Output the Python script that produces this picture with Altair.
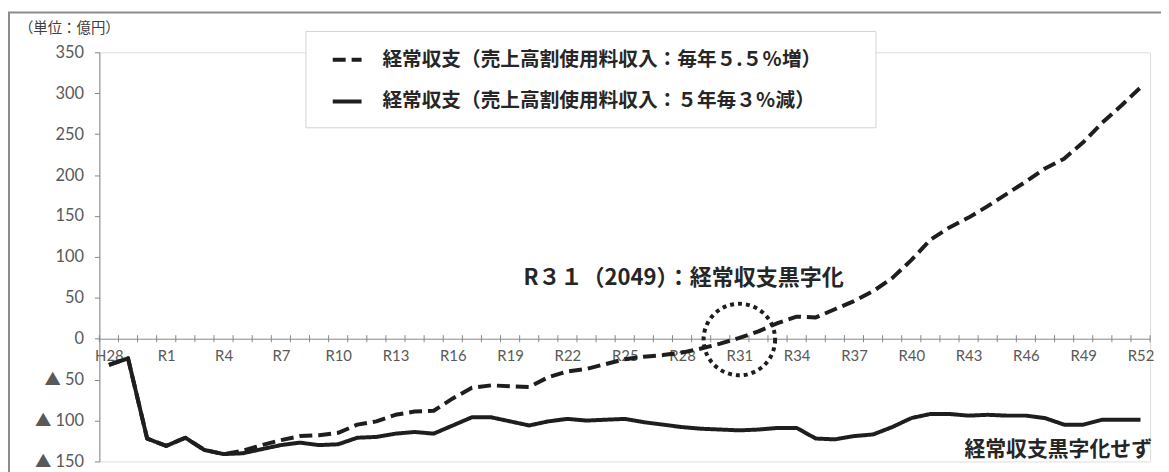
import altair as alt
import pandas as pd

years = ["H28", "H29", "H30", "R1", "R2", "R3", "R4", "R5", "R6", "R7", "R8", "R9",
         "R10", "R11", "R12", "R13", "R14", "R15", "R16", "R17", "R18", "R19", "R20",
         "R21", "R22", "R23", "R24", "R25", "R26", "R27", "R28", "R29", "R30", "R31",
         "R32", "R33", "R34", "R35", "R36", "R37", "R38", "R39", "R40", "R41", "R42",
         "R43", "R44", "R45", "R46", "R47", "R48", "R49", "R50", "R51", "R52"]
tick_labels = ["H28", "R1", "R4", "R7", "R10", "R13", "R16", "R19", "R22", "R25",
               "R28", "R31", "R34", "R37", "R40", "R43", "R46", "R49", "R52"]
y_ticks = [-150, -100, -50, 0, 50, 100, 150, 200, 250, 300, 350]

series_up = "経常収支（売上高割使用料収入：毎年５.５％増）"
series_down = "経常収支（売上高割使用料収入：５年毎３％減）"

values_up = [-32, -24, -122, -131, -121, -136, -141, -137, -130, -124, -119, -118,
             -115, -105, -101, -93, -89, -88, -73, -60, -57, -58, -59, -47, -40,
             -37, -31, -25, -22, -20, -17, -12, -6, 1, 9, 19, 27, 26, 36, 46, 58,
             74, 96, 121, 136, 148, 162, 177, 192, 208, 220, 240, 264, 285, 307]
values_down = [-32, -24, -122, -131, -121, -136, -141, -140, -135, -130, -127, -130,
               -129, -121, -120, -116, -114, -116, -106, -96, -96, -101, -106, -101,
               -98, -100, -99, -98, -102, -105, -108, -110, -111, -112, -111, -109,
               -109, -122, -123, -119, -117, -108, -97, -92, -92, -94, -93, -94, -94,
               -97, -105, -105, -99, -99, -99]

note_black = "R３１（2049）：経常収支黒字化"
note_none = "経常収支黒字化せず"
unit_text = "（単位：億円）"
breakeven_year = "R31"

rows = []
for i, y in enumerate(years):
    rows.append({"i": i, "year": y, "series": series_up, "value": values_up[i]})
    rows.append({"i": i, "year": y, "series": series_down, "value": values_down[i]})
df = pd.DataFrame(rows)

bounds = pd.DataFrame({"b": [k - 0.5 for k in range(len(years) + 1)]})

W, H = 1058, 412
JP = "Noto Sans CJK JP"
NUM = "Lato, Noto Sans CJK JP"
INK = "#1e1e1e"
AXC = "#868686"

x_scale = alt.Scale(domain=[-0.5, len(years) - 0.5], nice=False, zero=False)
y_scale = alt.Scale(domain=[-150, 350], nice=False, zero=False)
zero_offset = -H * (0 - (-150)) / (350 - (-150))

label_js = "[" + ",".join("'" + t + "'" for t in years) + "]"
tick_vals = [years.index(t) for t in tick_labels]

x_axis = alt.Axis(values=tick_vals, labelExpr=label_js + "[datum.value]",
                  offset=zero_offset, title=None, grid=False, ticks=False,
                  domainColor=AXC, domainWidth=1, labelColor="#595959",
                  labelFont=NUM, labelFontSize=15, labelPadding=10,
                  labelFlush=False, labelOverlap=False)
y_axis = alt.Axis(values=y_ticks,
                  labelExpr="datum.value < 0 ? '▲ ' + abs(datum.value) : '' + datum.value",
                  title=None, grid=False, tickColor=AXC, tickSize=5, domainColor=AXC,
                  labelColor="#595959", labelFont=NUM, labelFontSize=16.5,
                  labelPadding=11, labelFlush=False, labelOverlap=False)

frame = alt.Chart(pd.DataFrame({"a": [0]})).mark_rect(
    fillOpacity=0, stroke="#8c8c8c", strokeWidth=2
).encode(x=alt.value(-91), x2=alt.value(W + 30), y=alt.value(-40), y2=alt.value(H + 40))

legend_box = alt.Chart(pd.DataFrame({"a": [0]})).mark_rect(
    fill="white", stroke="#d4d4d4", strokeWidth=1
).encode(x=alt.value(208), x2=alt.value(782), y=alt.value(-21), y2=alt.value(76))

ticks = alt.Chart(bounds).mark_rule(color=AXC, strokeWidth=1).encode(
    x=alt.X("b:Q", scale=x_scale),
    y=alt.datum(-4.3), y2=alt.datum(4.3)
)

lines = alt.Chart(df).mark_line(
    strokeWidth=4, strokeCap="butt", strokeJoin="round", color=INK
).encode(
    x=alt.X("i:Q", scale=x_scale, axis=x_axis),
    y=alt.Y("value:Q", scale=y_scale, axis=y_axis),
    strokeDash=alt.StrokeDash(
        "series:N",
        scale=alt.Scale(domain=[series_up, series_down], range=[[13, 6], [1, 0]]),
        legend=alt.Legend(orient="none", legendX=233, legendY=-9, title=None,
                          symbolType="stroke", symbolSize=841, symbolStrokeWidth=4,
                          symbolStrokeColor=INK, labelFont=JP, labelFontWeight="bold",
                          labelFontSize=19.8, labelColor="#262626", labelLimit=0,
                          labelOffset=19, rowPadding=15, padding=0),
    ),
)

circle = alt.Chart(pd.DataFrame({"a": [0]})).mark_point(
    shape="circle", size=5184, filled=False, strokeWidth=4, strokeDash=[4, 4],
    color=INK, opacity=1
).encode(x=alt.datum(years.index(breakeven_year)), y=alt.datum(-1))

note1 = alt.Chart(pd.DataFrame({"a": [0]})).mark_text(
    text=note_black, font=JP, fontWeight="bold", fontSize=22.2, color="#262626",
    align="left", baseline="middle"
).encode(x=alt.datum(21.7), y=alt.datum(74))

note2 = alt.Chart(pd.DataFrame({"a": [0]})).mark_text(
    text=note_none, font=JP, fontWeight="bold", fontSize=21, color="#262626",
    align="right", baseline="middle"
).encode(x=alt.datum(54.6), y=alt.datum(-136.5))

unit = alt.Chart(pd.DataFrame({"a": [0]})).mark_text(
    text=unit_text, font=JP, fontSize=14.5, color="#404040",
    align="left", baseline="middle"
).encode(x=alt.value(-81), y=alt.value(-23))

chart = alt.layer(frame, legend_box, ticks, lines, circle, note1, note2, unit).properties(
    width=W, height=H,
    autosize=alt.AutoSizeParams(type="none"),
    padding={"left": 92, "top": 43, "right": 11, "bottom": 9},
).configure_view(stroke=None).configure(background="white")

chart.save("out.html", embed_options={"renderer": "svg", "actions": False})
